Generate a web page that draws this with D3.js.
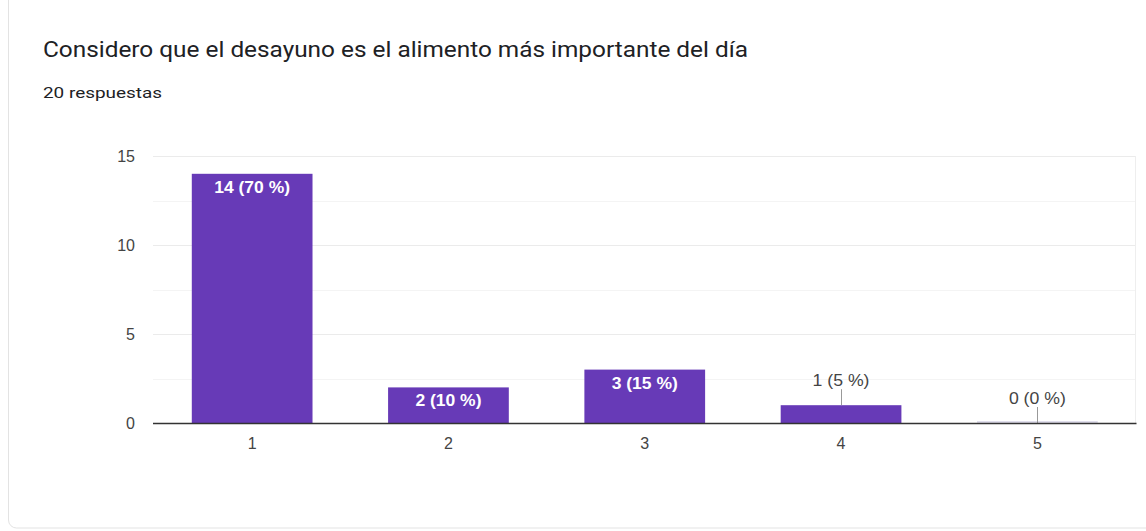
<!DOCTYPE html>
<html>
<head>
<meta charset="utf-8">
<script src="https://cdn.jsdelivr.net/npm/d3@7/dist/d3.min.js"></script>
<style>
  html, body { margin: 0; padding: 0; background: #fff; }
  svg { display: block; }
</style>
</head>
<body>
<svg id="chart" width="1146" height="531"></svg>
<script>
// Survey answers: rating 1–5, number of responses
const categories = ["1", "2", "3", "4", "5"];
const counts = [14, 2, 3, 1, 0];
const totalResponses = 20;
const yTicks = [0, 5, 10, 15];
const title = "Considero que el desayuno es el alimento más importante del día";
const subtitle = totalResponses + " respuestas";

const svg = d3.select("#chart");
const W = 1146, H = 531;
const plot = { left: 154, right: 1135.5, top: 156, bottom: 423 };
const labelFont = "Arial, 'Liberation Sans', sans-serif";

// widen a text element horizontally by a factor, keeping its anchor
function widen(sel, k) {
  sel.each(function () {
    const w = this.getComputedTextLength();
    d3.select(this).attr("textLength", w * k).attr("lengthAdjust", "spacingAndGlyphs");
  });
}

// card outline
svg.append("rect")
  .attr("x", 8.5).attr("y", -10).attr("width", W + 20).attr("height", 538)
  .attr("rx", 8).attr("fill", "#fff")
  .attr("stroke", "#e3e3e3").attr("stroke-width", 1);

svg.append("text")
  .attr("x", 43).attr("y", 57)
  .attr("font-family", "Roboto, Arial, sans-serif")
  .attr("font-size", 22).attr("fill", "#202124")
  .text(title)
  .attr("textLength", 705).attr("lengthAdjust", "spacingAndGlyphs");

svg.append("text")
  .attr("x", 43).attr("y", 98)
  .attr("font-family", "Roboto, Arial, sans-serif")
  .attr("font-size", 15.5).attr("fill", "#202124")
  .text(subtitle)
  .attr("textLength", 119).attr("lengthAdjust", "spacingAndGlyphs");

const x = d3.scaleBand()
  .domain(categories)
  .range([plot.left, plot.right])
  .paddingInner(0.385)
  .paddingOuter(0.1925);

const y = d3.scaleLinear()
  .domain([0, 15])
  .range([plot.bottom, plot.top]);

const g = svg.append("g");

// gridlines (major + minor)
const minor = d3.range(0, 15.01, 2.5);
g.selectAll("line.grid")
  .data(minor)
  .join("line")
  .attr("class", "grid")
  .attr("x1", plot.left - 1).attr("x2", plot.right)
  .attr("y1", d => Math.round(y(d)) + 0.5).attr("y2", d => Math.round(y(d)) + 0.5)
  .attr("stroke", d => d % 5 === 0 ? "#ebebeb" : "#f4f4f4")
  .attr("stroke-width", 1);

// right edge of plot area
g.append("line")
  .attr("x1", plot.right).attr("x2", plot.right)
  .attr("y1", y(15)).attr("y2", y(0))
  .attr("stroke", "#eeeeee");

// y axis labels
const yAxis = d3.axisLeft(y).tickValues(yTicks).tickSize(0).tickPadding(0);
const yG = svg.append("g").attr("transform", "translate(135,0)").call(yAxis);
yG.select(".domain").remove();
yG.selectAll("text")
  .attr("font-family", labelFont)
  .attr("font-size", 16).attr("fill", "#444")
  .attr("dy", "0.35em");

// bars
const pct = d => Math.round(d / totalResponses * 100);
const data = categories.map((c, i) => ({ c, v: counts[i] }));

g.selectAll("rect.bar")
  .data(data.filter(d => d.v > 0))
  .join("rect")
  .attr("class", "bar")
  .attr("x", d => x(d.c))
  .attr("y", d => y(d.v))
  .attr("width", x.bandwidth())
  .attr("height", d => y(0) - y(d.v))
  .attr("fill", "#673ab7");

// zero-height bar trace
g.selectAll("line.zero")
  .data(data.filter(d => d.v === 0))
  .join("line")
  .attr("class", "zero")
  .attr("x1", d => x(d.c)).attr("x2", d => x(d.c) + x.bandwidth())
  .attr("y1", y(0) - 1).attr("y2", y(0) - 1)
  .attr("stroke", "#d6d3e6").attr("stroke-width", 1.5);

// value labels: inside tall bars, above short ones with a stem
const inside = d => (y(0) - y(d.v)) >= 26;
const labelText = d => `${d.v} (${pct(d.v)} %)`;

g.selectAll("text.in")
  .data(data.filter(inside))
  .join("text")
  .attr("class", "in")
  .attr("x", d => x(d.c) + x.bandwidth() / 2)
  .attr("y", d => y(d.v) + 19)
  .attr("text-anchor", "middle")
  .attr("font-family", labelFont)
  .attr("font-size", 16.5).attr("font-weight", "bold")
  .attr("fill", "#fff")
  .text(labelText)
  .call(widen, 1.06);

const outside = data.filter(d => !inside(d));
g.selectAll("line.stem")
  .data(outside)
  .join("line")
  .attr("class", "stem")
  .attr("x1", d => Math.round(x(d.c) + x.bandwidth() / 2) + 0.5)
  .attr("x2", d => Math.round(x(d.c) + x.bandwidth() / 2) + 0.5)
  .attr("y1", d => y(d.v) - 16).attr("y2", d => y(d.v))
  .attr("stroke", "#999").attr("stroke-width", 1);

g.selectAll("text.out")
  .data(outside)
  .join("text")
  .attr("class", "out")
  .attr("x", d => x(d.c) + x.bandwidth() / 2)
  .attr("y", d => y(d.v) - 19.5)
  .attr("text-anchor", "middle")
  .attr("font-family", labelFont)
  .attr("font-size", 16.5)
  .attr("fill", "#444")
  .text(labelText)
  .call(widen, 1.07);

// baseline and category labels
const xAxis = d3.axisBottom(x).tickSize(0).tickPadding(15);
const xG = svg.append("g").attr("transform", `translate(0,${y(0)})`).call(xAxis);
xG.select(".domain")
  .attr("stroke", "#333").attr("stroke-width", 1.5)
  .attr("d", `M${plot.left - 1},0.5H${plot.right + 1}`);
xG.selectAll("text")
  .attr("font-family", labelFont)
  .attr("font-size", 16).attr("fill", "#444");
</script>
</body>
</html>
